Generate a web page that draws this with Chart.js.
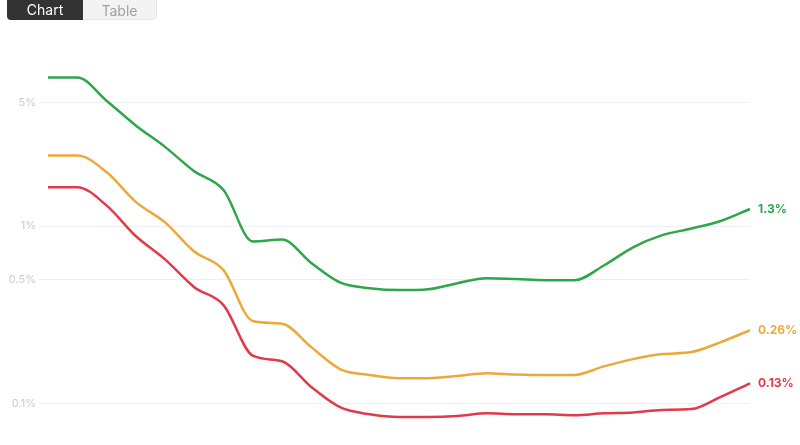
<!DOCTYPE html>
<html>
<head>
<meta charset="utf-8">
<script src="https://cdn.jsdelivr.net/npm/chart.js@4/dist/chart.umd.min.js"></script>
<style>
  html, body { margin: 0; padding: 0; background: #fff; }
  body { width: 800px; height: 445px; position: relative; overflow: hidden; font-family: Inter, "Noto Sans", sans-serif; }
  .tabs { position: absolute; left: 7px; top: -4px; display: flex; z-index: 2; }
  .tab { width: 76px; height: 24px; line-height: 28px; text-align: center; font-size: 14px; box-sizing: border-box; }
  .tab.on { background: #333; color: #fff; border-radius: 0 0 0 4px; }
  .tab.off { background: #f3f3f3; color: #a0a0a0; border: 1px solid #e6e6e6; border-left: none; border-radius: 0 0 5px 0; width: 74px; }
  #wrap { position: absolute; left: 0; top: 0; width: 800px; height: 445px; }
</style>
</head>
<body>
<div class="tabs"><div class="tab on">Chart</div><div class="tab off">Table</div></div>
<div id="wrap"><canvas id="trendChart"></canvas></div>
<script>
// values in percent, one per period
const periods = ['1','2','3','4','5','6','7','8','9','10','11','12','13','14','15','16','17','18','19','20','21','22','23','24','25'];
const greenValues = [6.9, 6.9, 5.1, 3.7, 2.8, 2.04, 1.6, 0.82, 0.84, 0.62, 0.48, 0.447, 0.436, 0.441, 0.477, 0.509, 0.503, 0.496, 0.496, 0.6, 0.76, 0.89, 0.97, 1.07, 1.25];
const orangeValues = [2.5, 2.5, 2.02, 1.37, 1.05, 0.72, 0.565, 0.292, 0.282, 0.208, 0.156, 0.145, 0.139, 0.139, 0.143, 0.148, 0.146, 0.145, 0.145, 0.162, 0.178, 0.19, 0.195, 0.222, 0.259];
const redValues = [1.66, 1.66, 1.31, 0.88, 0.65, 0.453, 0.359, 0.186, 0.173, 0.124, 0.095, 0.087, 0.084, 0.084, 0.085, 0.088, 0.087, 0.087, 0.086, 0.088, 0.089, 0.092, 0.093, 0.109, 0.13];
const endLabels = ['1.3%', '0.26%', '0.13%'];
const yTicks = [0.1, 0.5, 1, 5];

const colors = ['#2ea64a', '#eba93b', '#e13a4b'];

// draws the last value next to the end of each line
const endLabelPlugin = {
  id: 'endLabels',
  afterDatasetsDraw(chart) {
    const ctx = chart.ctx;
    ctx.save();
    ctx.font = 'bold 12px Inter, "Noto Sans", sans-serif';
    ctx.textBaseline = 'middle';
    chart.data.datasets.forEach((ds, i) => {
      const meta = chart.getDatasetMeta(i);
      const pt = meta.data[meta.data.length - 1];
      ctx.fillStyle = ds.borderColor;
      ctx.fillText(endLabels[i], pt.x + 8, pt.y);
    });
    ctx.restore();
  }
};

const ctx = document.getElementById('trendChart').getContext('2d');
new Chart(ctx, {
  type: 'line',
  data: {
    labels: periods,
    datasets: [greenValues, orangeValues, redValues].map((vals, i) => ({
      data: vals,
      borderColor: colors[i],
      borderWidth: 2.5,
      pointRadius: 0,
      fill: false,
      cubicInterpolationMode: 'monotone'
    }))
  },
  options: {
    responsive: true,
    maintainAspectRatio: false,
    animation: false,
    layout: { padding: { top: 66, bottom: 14, right: 50, left: 0 } },
    plugins: { legend: { display: false }, tooltip: { enabled: false } },
    scales: {
      x: { display: false, offset: false },
      y: {
        type: 'logarithmic',
        min: 0.07,
        max: 8,
        afterBuildTicks: (scale) => { scale.ticks = yTicks.map(v => ({ value: v })); },
        border: { display: false },
        grid: { color: '#efefef', lineWidth: 1, drawTicks: true, tickLength: 9 },
        ticks: {
          color: '#cbcbcb',
          padding: 3,
          font: { size: 11, family: 'Inter, "Noto Sans", sans-serif' },
          callback: (v) => v + '%'
        },
        afterFit: (scale) => { scale.width = 48; }
      }
    }
  },
  plugins: [endLabelPlugin]
});
</script>
</body>
</html>
